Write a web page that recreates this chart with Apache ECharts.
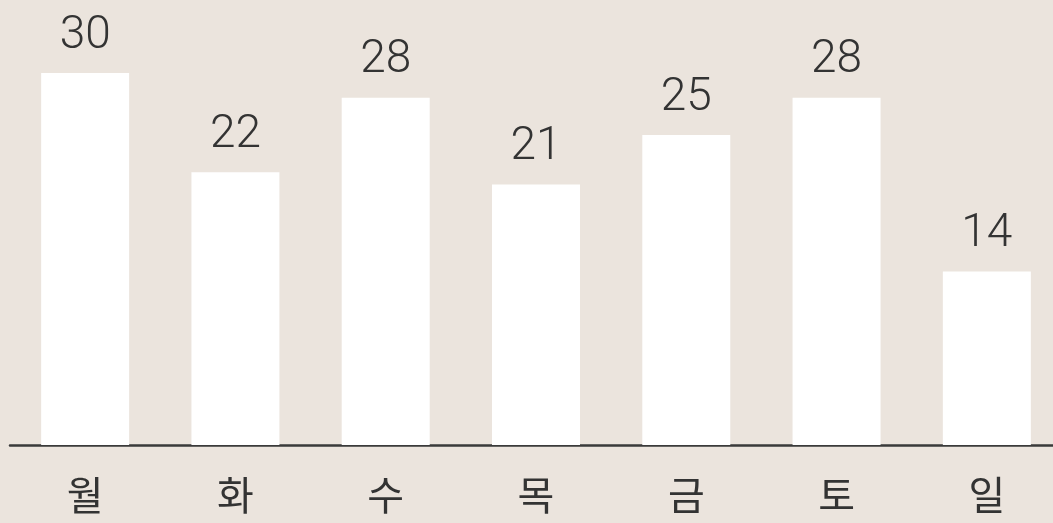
<!DOCTYPE html>
<html><head><meta charset="utf-8">
<script src="https://cdn.jsdelivr.net/npm/echarts@6/dist/echarts.min.js"></script>
<style>html,body{margin:0;padding:0;background:#ebe4dd;}#c{width:1053px;height:523px;}</style>
</head><body><div id="c"></div>
<script>
const categories = ['월','화','수','목','금','토','일'];
const values = [30, 22, 28, 21, 25, 28, 14];
const chart = echarts.init(document.getElementById('c'));
chart.setOption({
  backgroundColor: '#ebe4dd',
  animation: false,
  grid: { left: 10, width: 1052, top: 73, bottom: 78, outerBoundsMode: 'none', containLabel: false },
  xAxis: {
    type: 'category', data: categories,
    axisLine: { lineStyle: { color: '#3a3a3a', width: 2.5 } },
    axisTick: { show: false },
    axisLabel: { margin: 30, fontSize: 40, color: '#333', fontFamily: 'Noto Sans CJK KR' }
  },
  yAxis: { type: 'value', min: 0, max: 30, show: false, splitLine: { show: false } },
  series: [{
    type: 'bar', data: values, barWidth: 88,
    itemStyle: { color: '#ffffff' },
    label: { show: true, position: 'top', distance: 14, fontSize: 46, fontWeight: 300, color: '#333', fontFamily: 'Roboto' }
  }]
});
</script></body></html>
